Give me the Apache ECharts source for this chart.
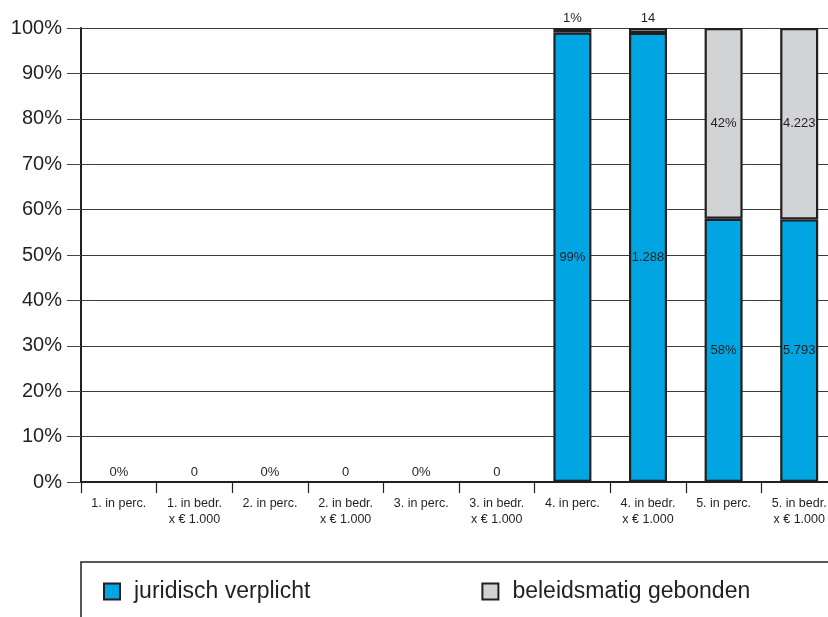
<!DOCTYPE html>
<html>
<head>
<meta charset="utf-8">
<script src="https://cdn.jsdelivr.net/npm/echarts@6/dist/echarts.min.js"></script>
<style>
html,body{margin:0;padding:0;background:#fff;}
#chart{width:828px;height:617px;}
</style>
</head>
<body>
<div id="chart"></div>
<script>
// ---- data ----
const categories = [
  '1. in perc.', '1. in bedr.\nx € 1.000',
  '2. in perc.', '2. in bedr.\nx € 1.000',
  '3. in perc.', '3. in bedr.\nx € 1.000',
  '4. in perc.', '4. in bedr.\nx € 1.000',
  '5. in perc.', '5. in bedr.\nx € 1.000'
];
const isPercent = [true, false, true, false, true, false, true, false, true, false];
const juridisch = [0, 0, 0, 0, 0, 0, 99, 1288, 58, 5793];
const beleids   = [0, 0, 0, 0, 0, 0, 1, 14, 42, 4223];
const seriesNames = ['juridisch verplicht', 'beleidsmatig gebonden'];
const yTicks = [0, 10, 20, 30, 40, 50, 60, 70, 80, 90, 100];

// ---- helpers ----
function fmt(v, pct) {
  const s = String(v).replace(/\B(?=(\d{3})+(?!\d))/g, '.');
  return pct ? s + '%' : s;
}
const DARK = '#231f20';
const FONT = '"Liberation Sans", Arial, Helvetica, sans-serif';

const jurData = [], belData = [];
for (let i = 0; i < categories.length; i++) {
  const tot = juridisch[i] + beleids[i];
  const jp = tot ? juridisch[i] / tot * 100 : 0;
  const bp = tot ? beleids[i] / tot * 100 : 0;
  const jl = fmt(juridisch[i], isPercent[i]);
  const bl = fmt(beleids[i], isPercent[i]);
  jurData.push({
    value: jp,
    itemStyle: jp ? {} : { borderWidth: 0, opacity: 0 },
    label: { show: true, position: tot ? 'inside' : 'top', distance: 3, formatter: jl, opacity: 1 }
  });
  belData.push({
    value: bp,
    itemStyle: bp ? {} : { borderWidth: 0, opacity: 0 },
    label: { show: tot > 0, position: bp < 8 ? 'top' : 'inside', distance: 3, formatter: bl }
  });
}

const chart = echarts.init(document.getElementById('chart'), null, { renderer: 'canvas' });
const labelStyle = { color: DARK, fontSize: 13, fontFamily: FONT };

chart.setOption({
  animation: false,
  backgroundColor: '#ffffff',
  textStyle: { fontFamily: FONT },
  grid: { left: 81, width: 756, top: 28, bottom: 135, containLabel: false, outerBoundsMode: 'none' },
  legend: {
    data: seriesNames,
    left: 103,
    top: 580,
    padding: 0,
    itemWidth: 16,
    itemHeight: 16,
    itemGap: 171,
    icon: 'rect',
    textStyle: { fontSize: 23, color: DARK, fontFamily: FONT, padding: [0, 0, 0, 9] },
    selectedMode: false
  },
  graphic: [{
    type: 'rect',
    shape: { x: 81, y: 562, width: 800, height: 100 },
    style: { fill: 'none', stroke: DARK, lineWidth: 1.5 },
    silent: true,
    z: -1
  }],
  xAxis: {
    type: 'category',
    data: categories,
    boundaryGap: true,
    axisLine: { show: true, lineStyle: { color: DARK, width: 2 } },
    axisTick: { show: true, alignWithLabel: false, length: 11, lineStyle: { color: DARK, width: 1.2 } },
    axisLabel: { color: DARK, fontSize: 12.5, lineHeight: 16.5, margin: 13, interval: 0, fontFamily: FONT },
    splitLine: { show: false }
  },
  yAxis: {
    type: 'value',
    min: yTicks[0],
    max: yTicks[yTicks.length - 1],
    interval: 10,
    axisLine: { show: true, lineStyle: { color: DARK, width: 2 } },
    axisTick: { show: true, length: 14, lineStyle: { color: '#444', width: 1 } },
    axisLabel: { color: DARK, fontSize: 20, margin: 19, formatter: '{value}%', fontFamily: FONT },
    splitLine: { show: true, lineStyle: { color: '#3c3c3c', width: 1 } }
  },
  series: [
    {
      name: seriesNames[0],
      type: 'bar',
      stack: 'total',
      barWidth: 38,
      data: jurData,
      itemStyle: { color: '#00a5e1', borderColor: DARK, borderWidth: 2.2 },
      label: labelStyle
    },
    {
      name: seriesNames[1],
      type: 'bar',
      stack: 'total',
      barWidth: 38,
      data: belData,
      itemStyle: { color: '#d2d3d5', borderColor: DARK, borderWidth: 2.2 },
      label: labelStyle
    }
  ]
});
</script>
</body>
</html>
